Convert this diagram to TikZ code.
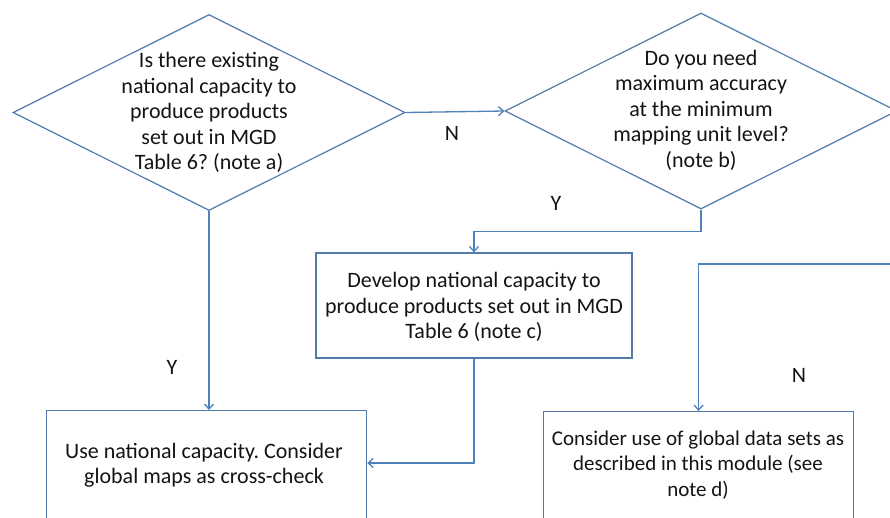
\documentclass[tikz,border=0pt]{standalone}
\usepackage{fontspec}
\setmainfont{Carlito}
\frenchspacing
\usetikzlibrary{shapes.geometric,arrows.meta}
\definecolor{shp}{RGB}{84,122,172}
\definecolor{cn}{RGB}{79,129,189}
\definecolor{tx}{RGB}{20,20,20}
\begin{document}
\begin{tikzpicture}[x=1pt,y=-1pt,
 dec/.style={diamond, draw=shp, line width=1.2pt, inner sep=0pt, minimum width=392pt, minimum height=196pt},
 boxs/.style={rectangle, draw=shp, line width=1.2pt, inner sep=0pt},
 txt/.style={align=center, font=\fontsize{22}{25.5}\selectfont, text=tx, inner sep=0pt},
 conn/.style={draw=cn, line width=1.3pt, -{Straight Barb[length=5pt,width=9pt]}},
 lbl/.style={font=\fontsize{22}{25}\selectfont, text=tx, inner sep=0pt}]
\clip (0,0) rectangle (890,517);
\fill[white] (0,0) rectangle (890,517);
% decisions
\node[dec] (d1) at (209,112.5) {};
\node[txt] (d1t) at (209,112.5) {Is there existing\\national capacity to\\produce products\\set out in MGD\\Table 6? (note a)};
\node[dec] (d2) at (701,111) {};
\node[txt] (d2t) at (701,110) {Do you need\\maximum accuracy\\at the minimum\\mapping unit level?\\(note b)};
% boxes
\node[boxs, minimum width=316pt, minimum height=105pt] (dev) at (474,305.5) {};
\node[txt] (devt) at (474,307) {Develop national capacity to\\produce products set out in MGD\\Table 6 (note c)};
\node[boxs, anchor=north west, minimum width=320pt, minimum height=140pt] (use) at (46,410) {};
\node[txt] (uset) at (204,465) {Use national capacity. Consider\\global maps as cross-check};
\node[boxs, anchor=north west, minimum width=310pt, minimum height=140pt] (cons) at (543,411) {};
\node[txt, font=\fontsize{21}{25.5}\selectfont] (const) at (698,465) {Consider use of global data sets as\\described in this module (see\\note d)};
\coordinate (off) at (895,264);
% connectors
\draw[conn] (d1.east) -- (d2.west);
\draw[conn] (d2.south) -- ++(0,22) -| (dev.north);
\draw[conn] (d1.south) -- (d1.south |- use.north);
\draw[conn] (dev.south) |- ([yshift=-53pt]use.north east);
\draw[conn] (off) -| (cons.north);
% labels
\node[lbl] (n1) at (452,133) {N};
\node[lbl] (y2) at (556,203) {Y};
\node[lbl] (y1) at (172,367) {Y};
\node[lbl] (n2) at (799,375) {N};
\end{tikzpicture}
\end{document}
